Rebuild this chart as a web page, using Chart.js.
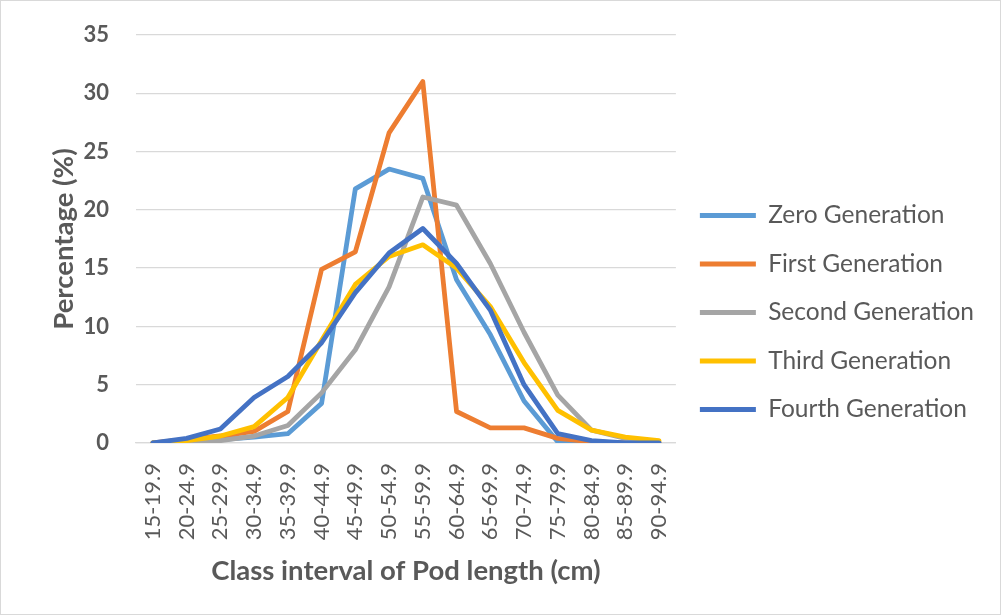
<!DOCTYPE html>
<html>
<head>
<meta charset="utf-8">
<script src="https://cdn.jsdelivr.net/npm/chart.js@4.4.0/dist/chart.umd.min.js"></script>
<style>
  html, body { margin: 0; padding: 0; background: #fff; }
  #wrap { width: 1001px; height: 615px; box-sizing: border-box; border: 1px solid #D9D9D9; position: relative; }
  canvas { display: block; }
</style>
</head>
<body>
<div id="wrap"><canvas id="podChart" width="999" height="613"></canvas></div>
<script>
// intervalos de classe (eixo x)
const classes = ['15-19.9', '20-24.9', '25-29.9', '30-34.9', '35-39.9', '40-44.9', '45-49.9', '50-54.9',
                 '55-59.9', '60-64.9', '65-69.9', '70-74.9', '75-79.9', '80-84.9', '85-89.9', '90-94.9'];

// percentuais por geração
const zeroGen   = [0, 0.1, 0.3, 0.5, 0.8, 3.4, 21.8, 23.5, 22.7, 14.0, 9.3, 3.6, 0.1, 0, 0, 0];
const firstGen  = [0, 0.3, 0.6, 1.0, 2.7, 14.9, 16.4, 26.6, 31.0, 2.7, 1.3, 1.3, 0.4, 0.1, 0, 0];
const secondGen = [0, 0, 0.2, 0.6, 1.5, 4.3, 8.0, 13.4, 21.1, 20.4, 15.4, 9.5, 4.1, 1.1, 0.4, 0.1];
const thirdGen  = [0, 0.2, 0.6, 1.4, 3.9, 8.8, 13.6, 16.0, 17.0, 15.0, 11.7, 6.9, 2.8, 1.1, 0.5, 0.2];
const fourthGen = [0, 0.4, 1.2, 3.9, 5.7, 8.6, 12.9, 16.3, 18.4, 15.4, 11.4, 5.0, 0.8, 0.2, 0, 0];

const yTicks = [0, 5, 10, 15, 20, 25, 30, 35];

const fonte = 'Lato, "Open Sans", sans-serif';
const cinza = '#595959';

function serie(label, data, cor, ordem) {
    return {
        label: label,
        data: data,
        borderColor: cor,
        backgroundColor: cor,
        borderWidth: 4.8,
        borderCapStyle: 'round',
        borderJoinStyle: 'round',
        pointRadius: 0,
        pointHoverRadius: 0,
        tension: 0,
        fill: false,
        order: ordem
    };
}

let ctx = document.getElementById('podChart').getContext('2d');
new Chart(ctx, {
    type: 'line',
    data: {
        labels: classes,
        datasets: [
            serie('Zero Generation', zeroGen, '#5B9BD5', 5),
            serie('First Generation', firstGen, '#ED7D31', 4),
            serie('Second Generation', secondGen, '#A5A5A5', 3),
            serie('Third Generation', thirdGen, '#FFC000', 2),
            serie('Fourth Generation', fourthGen, '#4472C4', 1)
        ]
    },
    options: {
        responsive: false,
        animation: false,
        layout: {
            padding: { left: 46, top: 34, right: 16, bottom: 24 }
        },
        plugins: {
            legend: {
                position: 'right',
                maxWidth: 400,
                labels: {
                    usePointStyle: true,
                    pointStyle: 'line',
                    pointStyleWidth: 56,
                    boxHeight: 4,
                    padding: 24,
                    color: cinza,
                    font: { family: fonte, size: 24.5 },
                    sort: (a, b) => a.datasetIndex - b.datasetIndex
                }
            },
            tooltip: { enabled: false }
        },
        scales: {
            x: {
                offset: true,
                grid: { display: false, offset: true },
                border: { display: true, color: '#D9D9D9', width: 1.3 },
                ticks: {
                    color: cinza,
                    minRotation: 90,
                    maxRotation: 90,
                    padding: 12,
                    font: { family: fonte, size: 22 }
                },
                title: {
                    display: true,
                    text: 'Class interval of Pod length (cm)',
                    color: cinza,
                    padding: { top: 4, bottom: 2 },
                    font: { family: fonte, size: 27.5, weight: 'bold' }
                },
                afterFit: function(scale) { scale.height = 147; }
            },
            y: {
                min: 0,
                max: 35,
                afterBuildTicks: function(scale) {
                    scale.ticks = yTicks.map(v => ({ value: v }));
                },
                // marcas invisíveis só para afastar os rótulos da área do gráfico
                grid: { color: '#D9D9D9', lineWidth: 1.3, drawTicks: true, tickLength: 27, tickColor: 'rgba(0,0,0,0)' },
                border: { display: false },
                ticks: {
                    color: cinza,
                    padding: 0,
                    font: { family: fonte, size: 22, weight: 'bold' }
                },
                title: {
                    display: true,
                    text: 'Percentage (%)',
                    color: cinza,
                    padding: 1,
                    font: { family: fonte, size: 27.5, weight: 'bold' }
                },
                afterFit: function(scale) { scale.width = 89; }
            }
        }
    }
});
</script>
</body>
</html>
